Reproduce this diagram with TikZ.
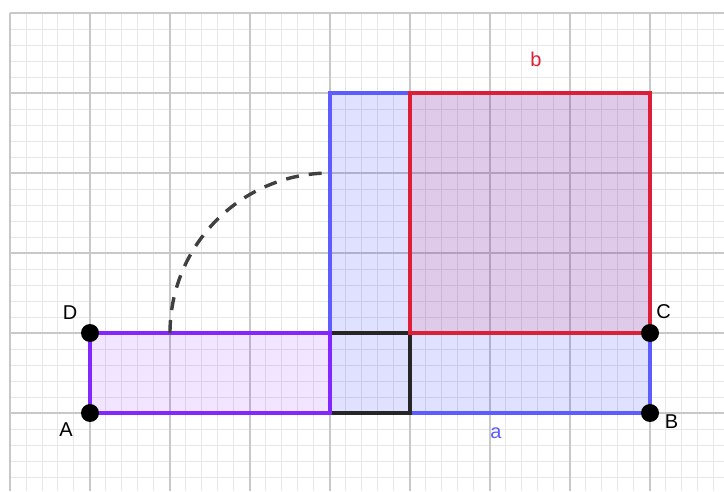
\documentclass[tikz,border=0pt]{standalone}
\usepackage{fontspec}
\setmainfont{Liberation Sans}
\definecolor{gmajor}{RGB}{200,200,200}
\definecolor{gminor}{RGB}{232,232,232}
\definecolor{bline}{RGB}{92,92,255}
\definecolor{bfill}{RGB}{0,0,255}
\definecolor{rline}{RGB}{221,30,55}
\definecolor{pline}{RGB}{130,40,255}
\definecolor{pfill}{RGB}{127,0,255}
\definecolor{arcc}{RGB}{64,64,64}
\begin{document}
\begin{tikzpicture}[x=80pt,y=80pt,
  pt/.style={circle,fill=black,inner sep=0pt,minimum size=18pt},
  lbl/.style={font=\fontsize{20}{22}\selectfont,inner sep=0pt},
  edge/.style={line width=3.4pt,line join=miter}]
\useasboundingbox (-1.125,-0.975) rectangle (7.925,5.1625);
\fill[white] (-1.125,-0.975) rectangle (7.925,5.1625);
% grid
\draw[gminor,line width=1pt,step=0.2] (-1,-0.975) grid (7.925,5);
\draw[gmajor,line width=1.3pt,step=1] (-1,-0.975) grid (7.925,5);
% fills
\fill[bfill,fill opacity=0.12] (3,0) rectangle (7,4);
\fill[rline,fill opacity=0.11] (4,1) rectangle (7,4);
\fill[pfill,fill opacity=0.1] (0,0) rectangle (3,1);
% borders
\draw[edge,bline] (3,0) rectangle (7,4);
\draw[edge,black!85] (3,0) rectangle (4,1);
\draw[edge,pline] (0,0) rectangle (3,1);
\draw[edge,rline] (4,1) rectangle (7,4);
% arc
\draw[arcc,line width=3.4pt,dash pattern=on 13pt off 10pt] (1,1) arc[start angle=180,end angle=90,radius=2];
% points
\node[pt] (A) at (0,0) {};
\node[pt] (B) at (7,0) {};
\node[pt] (C) at (7,1) {};
\node[pt] (D) at (0,1) {};
% labels
\node[lbl] (lA) at (-0.3,-0.21) {A};
\node[lbl] (lB) at (7.27,-0.11) {B};
\node[lbl] (lC) at (7.17,1.27) {C};
\node[lbl] (lD) at (-0.25,1.25) {D};
\node[lbl,text=rline] (lb) at (5.575,4.42) {b};
\node[lbl,text=bline] (la) at (5.075,-0.25) {a};
\end{tikzpicture}
\end{document}
